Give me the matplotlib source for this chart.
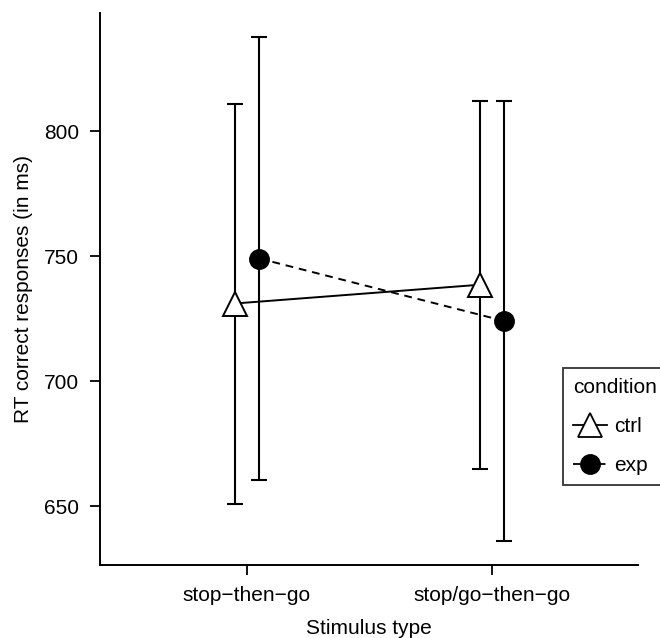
import matplotlib
matplotlib.use("Agg")
import matplotlib.pyplot as plt
import numpy as np
from matplotlib.lines import Line2D

plt.rcParams['font.family'] = ['Liberation Sans', 'DejaVu Sans']

categories = ["stop\u2212then\u2212go", "stop/go\u2212then\u2212go"]
ctrl_mean = [731, 738.5]
ctrl_err = [80, 73.5]
exp_mean = [749, 724]
exp_err = [88.5, 88]
yticks = [650, 700, 750, 800]

FS = 15

fig = plt.figure(figsize=(6.6, 6.38), dpi=100)
ax = fig.add_axes([100/660, 1-565/638, 538/660, 552/638])

x = np.arange(1, len(categories) + 1)
dodge = 0.05

ax.errorbar(x - dodge, ctrl_mean, yerr=ctrl_err, fmt='none', ecolor='black',
            elinewidth=1.5, capsize=5.5, capthick=1.5, zorder=2)
ax.errorbar(x + dodge, exp_mean, yerr=exp_err, fmt='none', ecolor='black',
            elinewidth=1.5, capsize=5.5, capthick=1.5, zorder=2)
ax.plot(x - dodge, ctrl_mean, '-', color='black', lw=1.4, marker='^',
        markersize=17, markerfacecolor='white', markeredgecolor='black',
        markeredgewidth=1.4, zorder=3)
ax.plot(x + dodge, exp_mean, '--', color='black', lw=1.4, marker='o',
        markersize=14, markerfacecolor='black', markeredgecolor='black',
        dashes=(4, 3), zorder=3)

ax.set_xlim(0.4, 2.596)
ax.set_ylim(626.4, 847.2)
ax.set_xticks(x)
ax.set_xticklabels(categories, fontsize=FS)
ax.set_yticks(yticks)
ax.set_yticklabels([str(v) for v in yticks], fontsize=FS)
ax.tick_params(axis='both', length=7, width=1.3, pad=8, direction='out')
for s in ['top', 'right']:
    ax.spines[s].set_visible(False)
for s in ['left', 'bottom']:
    ax.spines[s].set_linewidth(1.4)

ax.set_xlabel("Stimulus type", fontsize=FS, labelpad=10)
ax.set_ylabel("RT correct responses (in ms)", fontsize=FS, labelpad=8)

handles = [
    Line2D([], [], color='black', lw=1.3, marker='^', markersize=17,
           markerfacecolor='white', markeredgecolor='black', markeredgewidth=1.3),
    Line2D([], [], color='black', lw=1.3, ls='--', dashes=(4, 3), marker='o',
           markersize=14, markerfacecolor='black', markeredgecolor='black'),
]
leg = fig.legend(handles, ["ctrl", "exp"], title="condition",
                 loc='upper left', bbox_to_anchor=(563/660, 1-368/638),
                 fontsize=FS, title_fontsize=FS, frameon=True,
                 fancybox=False, edgecolor='black', handlelength=1.6,
                 handletextpad=0.35, borderpad=0.5, labelspacing=0.95,
                 borderaxespad=0, alignment='left')
leg.get_frame().set_linewidth(1.3)

fig.savefig("out.png", dpi=100)
